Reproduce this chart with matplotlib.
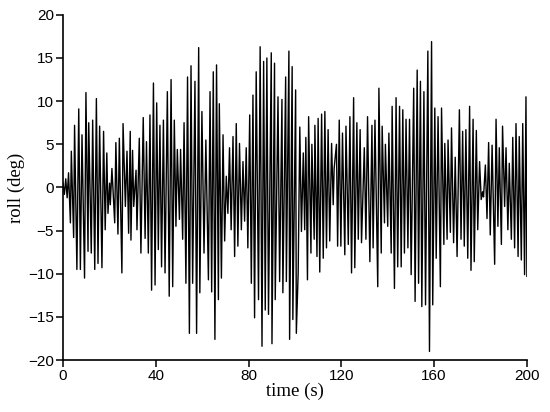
import matplotlib
matplotlib.use("Agg")
import matplotlib.pyplot as plt
import numpy as np

# Upper peaks (time s, roll deg)
peak_t = [0.0, 1.2, 2.4, 3.6, 5.0, 6.8, 8.2, 9.9, 11.1, 12.8, 14.4, 15.8, 17.5, 18.9, 20.1,
          21.1, 22.8, 24.3, 25.9, 27.6, 29.0, 30.0, 31.5, 32.9,
          34.6, 36.0, 37.5, 39.0, 40.4, 41.8, 43.3, 45.0, 46.6, 48.0, 49.3, 50.7, 52.2,
          53.7, 55.2, 56.9, 58.5, 59.9, 61.6, 63.4, 64.8, 66.2, 67.4,
          69.0, 70.4, 71.8, 73.3, 74.7, 76.1, 77.6, 79.0, 80.5, 81.9, 83.3, 85.0, 86.5,
          87.9, 89.8, 91.2, 92.7, 94.4, 96.0, 97.4, 98.8, 100.3,
          102.1, 103.6, 104.7, 105.9, 107.3, 108.6, 110.0, 111.5, 112.9, 114.3, 115.8,
          116.9, 117.9, 119.1, 120.5, 122.0, 123.7, 125.3, 126.7, 128.1, 129.9, 131.3,
          133.2, 134.5, 136.2, 137.6, 139.0, 140.5, 141.9, 143.6, 145.1, 146.5, 147.9,
          149.4, 151.2, 152.7, 154.1, 155.6, 157.3, 158.9, 160.3, 161.7, 163.2, 164.6,
          166.0, 167.5, 169.1, 170.9, 172.3, 173.7, 175.3, 176.8, 178.2, 179.6, 180.9,
          182.1, 183.5, 185.0, 186.7, 188.1, 189.5, 191.0, 192.4, 193.9, 195.3, 196.7,
          198.2, 199.6]
peak_v = [0.5, 1.0, 1.7, 4.2, 7.2, 9.1, 6.1, 11.0, 7.5, 7.8, 10.3, 7.1, 6.5, 4.0, 0.5,
          2.2, 5.2, 5.7, 7.4, 4.2, 6.5, 4.3, 2.0, 5.7,
          8.1, 5.3, 8.4, 12.1, 9.8, 7.2, 7.8, 11.1, 12.5, 7.8, 4.4, 4.4, 7.5,
          12.8, 14.1, 12.3, 16.2, 8.8, 5.5, 11.1, 13.4, 14.2, 9.7,
          6.1, 1.3, 4.6, 5.9, 7.4, 5.1, 3.0, 4.6, 8.4, 10.7, 13.4, 16.3, 14.6,
          15.0, 15.6, 14.4, 10.5, 10.2, 12.8, 15.8, 14.0, 11.3,
          7.0, 4.0, 5.8, 8.2, 5.0, 7.2, 8.0, 8.5, 8.8, 6.7, 5.1,
          2.2, 5.0, 7.8, 6.3, 7.1, 8.2, 10.4, 7.5, 6.7, 4.6, 8.2,
          7.2, 7.8, 11.5, 7.1, 5.0, 6.3, 9.4, 10.4, 9.4, 9.0, 7.9,
          7.9, 11.5, 13.6, 12.3, 11.1, 15.8, 16.9, 9.2, 8.2, 9.2, 5.1,
          5.5, 6.9, 3.5, 9.0, 6.5, 6.7, 9.4, 7.9, 6.6, 3.0, -0.5,
          2.6, 5.2, 4.9, 7.9, 4.6, 7.1, 4.6, 2.8, 5.8, 7.4, 5.9,
          7.4, 10.5]

# Lower troughs (time s, roll deg)
trough_t = [0.6, 1.8, 3.2, 4.6, 6.0, 7.5, 9.3, 10.8, 12.2, 13.7, 15.1, 16.8, 18.2, 19.4,
            20.4, 22.3, 23.7, 25.4, 26.9, 28.3, 29.3, 30.5, 31.9, 33.6,
            35.4, 36.8, 38.2, 39.7, 41.1, 42.5, 44.0, 45.8, 47.3, 48.7, 50.2, 51.6,
            53.0, 54.5, 55.9, 57.6, 59.0, 60.8, 62.7, 64.1, 65.5, 67.0,
            68.3, 69.7, 71.1, 72.5, 74.0, 75.4, 76.9, 78.3, 79.7, 81.2, 82.6, 84.3,
            85.8, 87.2, 88.6, 90.1, 91.5, 93.4, 94.8, 96.3, 97.7, 99.1, 100.6,
            101.4, 102.8, 104.2, 105.4, 106.9, 108.3, 109.5, 110.7, 112.2, 113.6, 115.0,
            116.5, 118.4, 119.8, 121.5, 123.0, 124.4, 125.8, 127.3, 128.7, 130.6,
            132.3, 133.7, 135.7, 137.2, 138.6, 140.0, 141.5, 142.9, 144.3, 145.8,
            147.2, 148.7, 150.1, 151.8, 153.3, 154.7, 156.3, 158.0, 159.4, 160.9,
            162.7, 164.2, 165.6, 167.0, 168.4, 169.9, 171.6, 173.0, 174.5, 175.9,
            177.3, 178.8, 180.3, 181.3, 182.8, 184.2, 186.1, 187.5, 189.0, 190.4,
            191.8, 193.3, 194.7, 196.2, 197.6, 199.0, 200.0]
trough_v = [-0.8, -1.2, -4.1, -5.8, -9.5, -9.5, -10.5, -7.4, -7.6, -9.5, -8.8, -9.3, -4.9, -3.0,
            -2.0, -4.1, -5.4, -9.9, -2.2, -5.3, -6.1, -2.2, -4.9, -7.6,
            -5.9, -7.6, -11.9, -11.3, -7.2, -9.2, -9.9, -12.6, -11.5, -4.5, -3.7, -6.0,
            -11.1, -16.9, -11.1, -16.9, -12.2, -7.6, -10.7, -12.1, -17.6, -13.0,
            -10.5, -6.2, -3.0, -4.9, -8.0, -6.8, -4.9, -3.9, -7.0, -11.1, -15.1, -13.0,
            -18.4, -14.2, -14.7, -18.1, -13.0, -10.9, -12.2, -10.9, -17.6, -15.3, -16.9,
            -9.8, -5.1, -4.9, -10.7, -7.6, -6.0, -8.0, -9.8, -8.2, -7.0, -6.2,
            -2.0, -6.8, -6.8, -7.8, -6.6, -9.9, -9.3, -6.0, -6.4, -6.0,
            -8.6, -7.0, -11.5, -7.6, -4.1, -4.5, -7.6, -11.7, -9.2, -9.2,
            -7.6, -7.0, -10.1, -13.2, -11.1, -13.8, -13.6, -19.0, -13.6, -8.2,
            -11.5, -6.6, -6.0, -5.2, -6.4, -8.0, -6.0, -6.8, -8.2, -9.6,
            -8.6, -4.9, -1.4, -1.1, -3.6, -5.5, -8.9, -4.5, -6.6, -2.2,
            -4.9, -6.0, -7.0, -8.0, -8.4, -10.1, -10.3]

x_ticks = [0, 40, 80, 120, 160, 200]
y_ticks = [-20, -15, -10, -5, 0, 5, 10, 15, 20]

t_all = np.array(peak_t + trough_t)
v_all = np.array(peak_v + trough_v)
order = np.argsort(t_all, kind="stable")
t_all = t_all[order]
v_all = v_all[order]

plt.rcParams['font.family'] = ['Liberation Sans', 'DejaVu Sans']
fig = plt.figure(figsize=(5.5, 4.12), dpi=100)
ax = fig.add_axes([0.1145, 0.126, 0.8435, 0.838])
ax.plot(t_all, v_all, color='black', lw=1.0)

ax.set_xlim(0, 200)
ax.set_ylim(-20, 20)
ax.set_xticks(x_ticks)
ax.set_yticks(y_ticks)
ax.spines['top'].set_visible(False)
ax.spines['right'].set_visible(False)
for s in ['left', 'bottom']:
    ax.spines[s].set_linewidth(1.2)
ax.tick_params(direction='out', length=5, width=1.1, labelsize=11, pad=1.5)
ax.set_xlabel('time (s)', family=['Liberation Serif'], fontsize=13.5, labelpad=0)
ax.set_ylabel('roll (deg)', family=['Liberation Serif'], fontsize=13.5, labelpad=2)

fig.savefig('out.png', dpi=100)
